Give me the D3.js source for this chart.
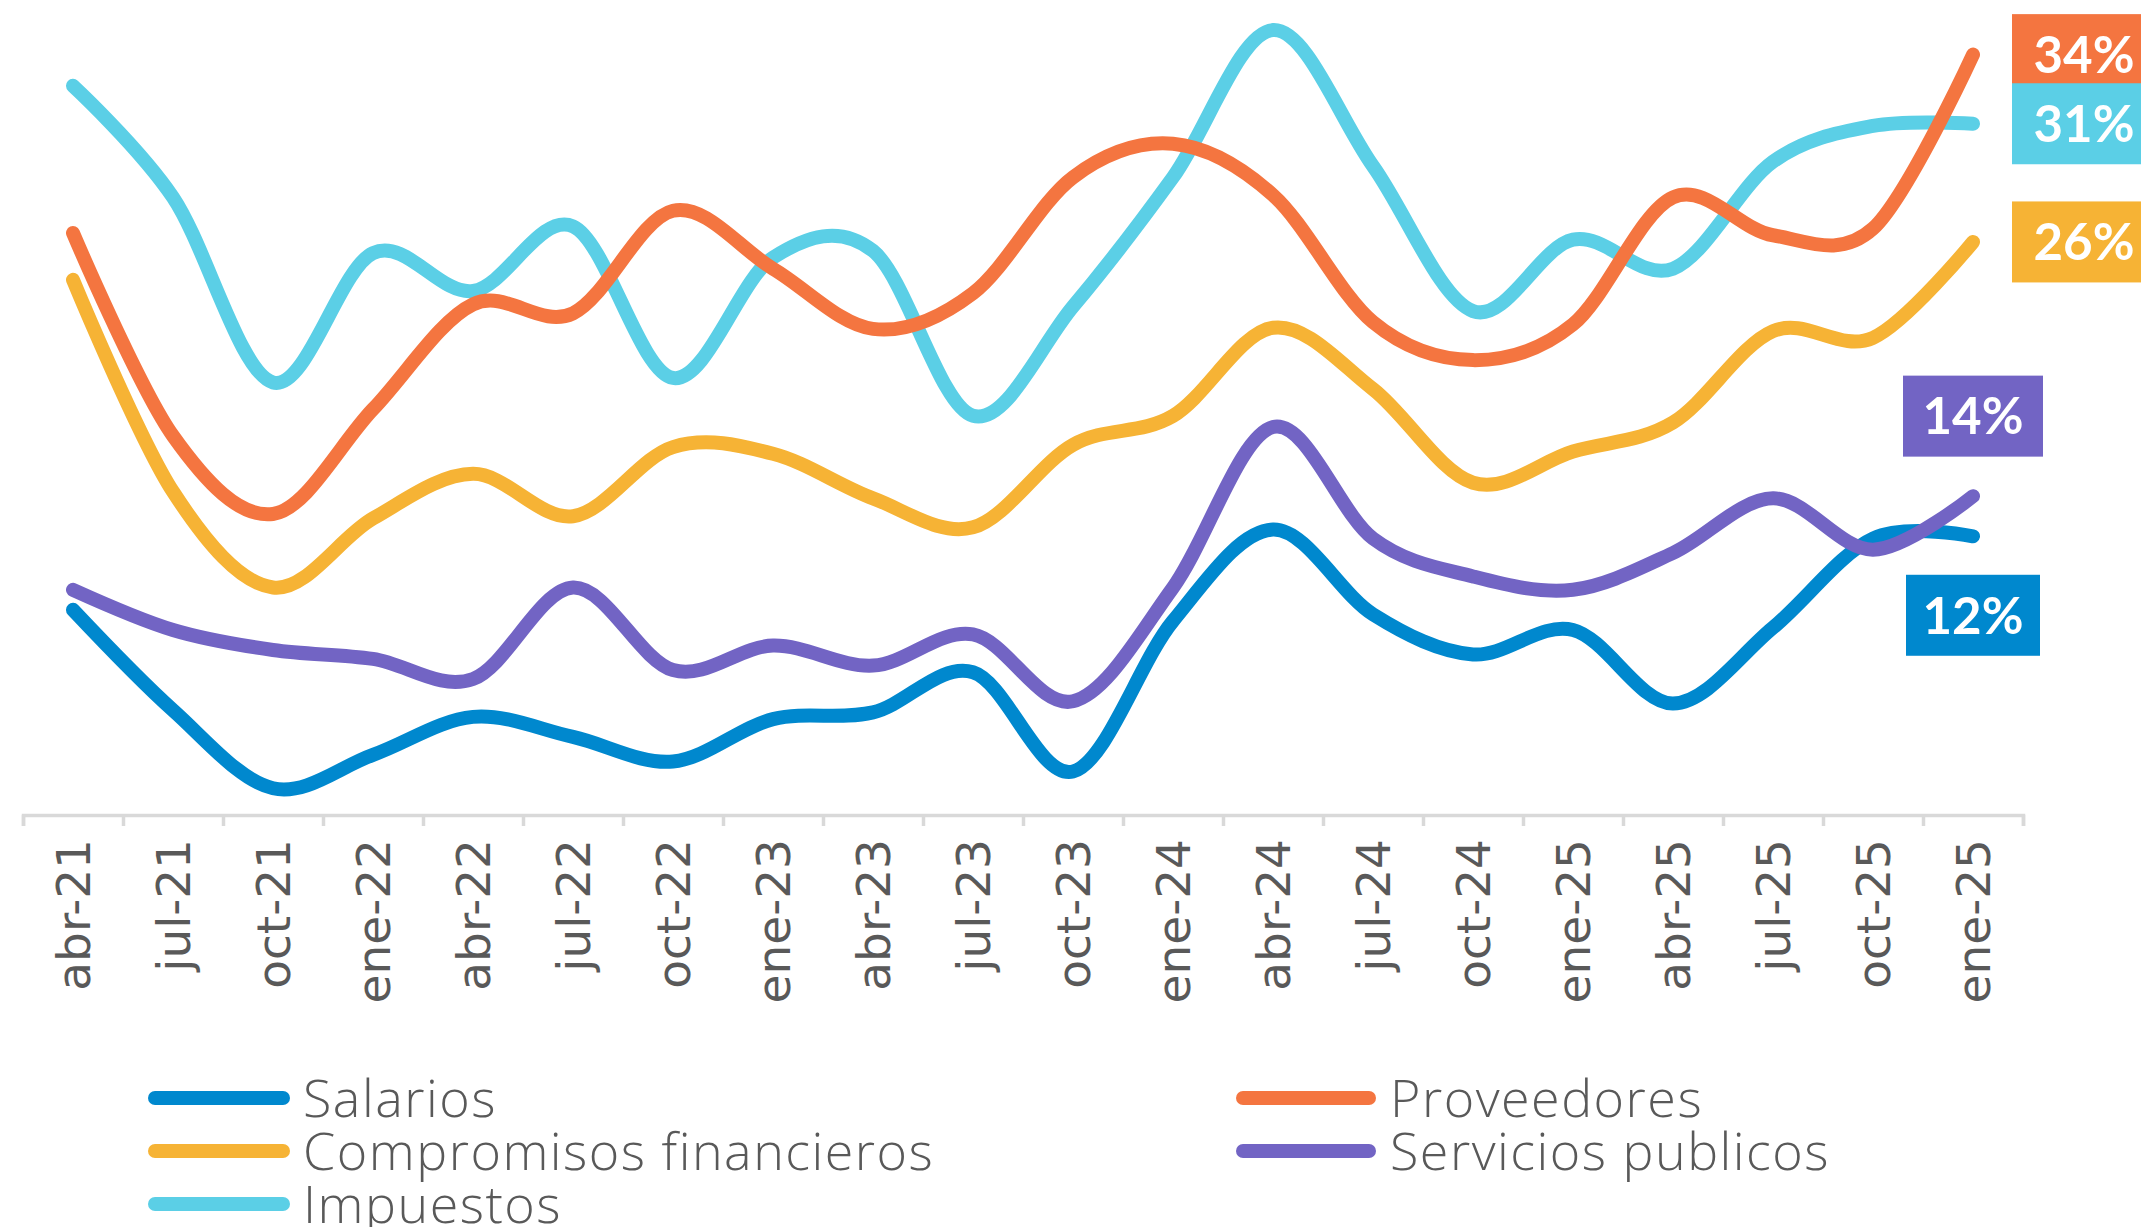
<!DOCTYPE html>
<html><head><meta charset="utf-8">
<script src="https://cdn.jsdelivr.net/npm/d3@7"></script>
<style>html,body{margin:0;padding:0;background:#fff;overflow:hidden}svg{display:block}</style>
</head><body>
<svg id="chart" width="2141" height="1227"></svg>
<script>
const categories = ["abr-21","jul-21","oct-21","ene-22","abr-22","jul-22","oct-22","ene-23","abr-23","jul-23","oct-23","ene-24","abr-24","jul-24","oct-24","ene-25","abr-25","jul-25","oct-25","ene-25"];
const salarios     = [9.2, 4.7, 1.2, 2.7, 4.4, 3.5, 2.4, 4.3, 4.6, 6.4, 1.95, 8.7, 12.8, 9.0, 7.2, 8.3, 5.0, 8.4, 12.4, 12.5];
const proveedores  = [26.1, 17.0, 13.5, 18.2, 22.9, 22.5, 27.1, 24.5, 21.8, 23.4, 28.6, 30.1, 27.8, 22.1, 20.4, 22.0, 27.7, 26.0, 26.3, 34.1];
const compromisos  = [24.0, 14.5, 10.2, 13.3, 15.3, 13.4, 16.5, 16.2, 14.2, 12.9, 16.6, 17.9, 21.85, 19.1, 14.9, 16.3, 17.6, 21.7, 21.4, 25.7];
const servicios    = [10.1, 8.3, 7.4, 7.0, 6.1, 10.2, 6.5, 7.6, 6.7, 8.1, 5.1, 10.2, 17.4, 12.4, 10.7, 10.1, 11.75, 14.2, 11.9, 14.3];
const impuestos    = [32.7, 27.7, 19.4, 25.2, 23.5, 26.4, 19.6, 25.0, 25.3, 17.9, 22.8, 28.6, 35.2, 29.1, 22.6, 25.8, 24.5, 29.3, 30.9, 31.0];
const seriesNames  = ["Salarios","Proveedores","Compromisos financieros","Servicios publicos","Impuestos"];
const seriesColors = ["#0088CE","#F47540","#F6B335","#7264C4","#5BCFE6"];
const endLabels    = ["12%","34%","26%","14%","31%"];

const seriesData = [salarios, proveedores, compromisos, servicios, impuestos];
const svg = d3.select("#chart");

const axisY = 815;
const x = d3.scaleBand().domain(d3.range(categories.length)).range([23, 2023]).padding(0);
const xEdge = d3.scaleLinear().domain([0, categories.length]).range([23, 2023]);
const y = d3.scaleLinear().domain([0, 36.55]).range([axisY, 0]);
const cx = i => x(i) + x.bandwidth() / 2;

// axis line + boundary ticks
const edgeAxis = svg.append("g").attr("transform", `translate(0,${axisY})`)
  .call(d3.axisBottom(xEdge).tickValues(d3.range(categories.length + 1)).tickSize(11).tickSizeOuter(11).tickFormat(""));
edgeAxis.select(".domain").attr("stroke", "#D9D9D9").attr("stroke-width", 3.5);
edgeAxis.selectAll(".tick line").attr("stroke", "#D9D9D9").attr("stroke-width", 3.5);

// category labels
const labAxis = svg.append("g").attr("transform", `translate(0,${axisY})`)
  .call(d3.axisBottom(x).tickSize(0).tickFormat(i => categories[i]));
labAxis.select(".domain").remove();
labAxis.selectAll(".tick text")
  .attr("transform", "rotate(-90)")
  .attr("x", -24).attr("y", 0).attr("dy", "0.36em")
  .style("text-anchor", "end")
  .style("font-family", "'DejaVu Sans', sans-serif")
  .style("font-size", "47px")
  .attr("fill", "#595959");

// lines
const line = d3.line().x((d, i) => cx(i)).y(d => y(d)).curve(d3.curveCardinal.tension(0));
const drawOrder = [0, 2, 4, 1, 3];
drawOrder.forEach(s => {
  svg.append("path").datum(seriesData[s])
    .attr("d", line)
    .attr("fill", "none")
    .attr("stroke", seriesColors[s])
    .attr("stroke-width", 14)
    .attr("stroke-linecap", "round")
    .attr("stroke-linejoin", "round");
});

// end labels
const last = categories.length - 1;
const labelPos = [
  {s: 1, bx: 2012, w: 144, dy: 0},
  {s: 4, bx: 2012, w: 144, dy: 0},
  {s: 2, bx: 2012, w: 144, dy: 0},
  {s: 3, bx: cx(last) - 70, w: 140, dy: -80},
  {s: 0, bx: cx(last) - 67, w: 134, dy: 79}
];
labelPos.forEach(p => {
  const yc = y(seriesData[p.s][last]) + p.dy;
  const g = svg.append("g");
  g.append("rect").attr("x", p.bx).attr("y", yc - 40.5).attr("width", p.w).attr("height", 81)
    .attr("fill", seriesColors[p.s]);
  g.append("text").attr("x", p.bx + p.w / 2).attr("y", yc).attr("dy", "0.36em")
    .attr("text-anchor", "middle")
    .style("font-family", "Lato, 'Open Sans', sans-serif")
    .style("font-weight", "700")
    .style("font-size", "51px")
    .attr("fill", "#fff")
    .text(endLabels[p.s]);
});

// legend
const legendItems = [
  {s: 0, col: 0, row: 0}, {s: 1, col: 1, row: 0},
  {s: 2, col: 0, row: 1}, {s: 3, col: 1, row: 1},
  {s: 4, col: 0, row: 2}
];
const colX = [{x1: 155, x2: 283, tx: 303}, {x1: 1243, x2: 1369, tx: 1390}];
const rowY = [1098, 1151, 1204];
legendItems.forEach(it => {
  const c = colX[it.col], ry = rowY[it.row];
  svg.append("line").attr("x1", c.x1).attr("x2", c.x2).attr("y1", ry).attr("y2", ry)
    .attr("stroke", seriesColors[it.s]).attr("stroke-width", 14).attr("stroke-linecap", "round");
  svg.append("text").attr("x", c.tx).attr("y", ry).attr("dy", "0.36em")
    .style("font-family", "'Open Sans', sans-serif")
    .style("font-weight", "300")
    .style("font-size", "52px")
    .style("letter-spacing", "1.5px")
    .attr("fill", "#595959")
    .text(seriesNames[it.s]);
});
</script>
</body></html>
